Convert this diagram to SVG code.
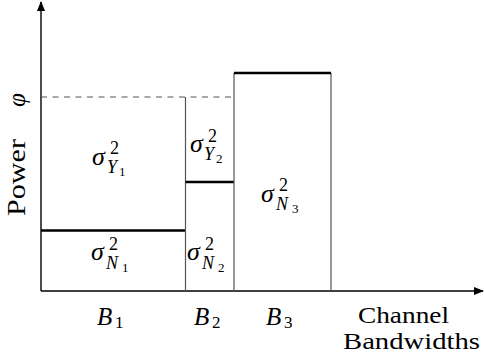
<svg xmlns="http://www.w3.org/2000/svg" width="484" height="358" viewBox="0 0 484 358">
<style>
.t{font-family:"Liberation Serif","Times New Roman",serif;fill:#000}
.m{font-family:"Liberation Serif","Times New Roman",serif;font-style:italic;fill:#000}
.thin{stroke:#555;stroke-width:1.2;fill:none}
.thick{stroke:#000;stroke-width:2.6;fill:none}
.ax{stroke:#000;stroke-width:1.4;fill:none}
</style>
<defs>
<marker id="ah" viewBox="0 0 10 8" refX="9" refY="4" markerWidth="10" markerHeight="8" markerUnits="userSpaceOnUse" orient="auto">
<path d="M0,0 L10,4 L0,8 Z" fill="#000"/>
</marker>
</defs>
<g id="connectors">
<line class="ax" x1="41" y1="291" x2="41" y2="2" marker-end="url(#ah)"/>
<line class="ax" x1="41" y1="291" x2="483" y2="291" marker-end="url(#ah)"/>
<line x1="41" y1="97" x2="234" y2="97" stroke="#555" stroke-width="1.2" stroke-dasharray="6,5.5"/>
</g>
<g id="bar1">
<line class="thick" x1="41" y1="230.5" x2="185.5" y2="230.5"/>
<text class="m" x="92" y="165" font-size="26">σ</text>
<text class="t" x="110" y="154" font-size="18">2</text>
<text class="m" x="107" y="173" font-size="18">Y</text>
<text class="t" x="119" y="176" font-size="13">1</text>
<text class="m" x="91" y="260" font-size="26">σ</text>
<text class="t" x="109" y="250" font-size="18">2</text>
<text class="m" x="106" y="269" font-size="18">N</text>
<text class="t" x="122" y="272" font-size="13">1</text>
</g>
<g id="bar2">
<line class="thin" x1="185.5" y1="97" x2="185.5" y2="291"/>
<line class="thick" x1="185.5" y1="182" x2="234" y2="182"/>
<text class="m" x="190" y="152" font-size="26">σ</text>
<text class="t" x="208" y="142" font-size="18">2</text>
<text class="m" x="204" y="160" font-size="18">Y</text>
<text class="t" x="216" y="163" font-size="13">2</text>
<text class="m" x="187" y="260" font-size="26">σ</text>
<text class="t" x="205" y="250" font-size="18">2</text>
<text class="m" x="202" y="269" font-size="18">N</text>
<text class="t" x="218" y="272" font-size="13">2</text>
</g>
<g id="bar3">
<line class="thin" x1="234" y1="73" x2="234" y2="291"/>
<line class="thin" x1="331" y1="73" x2="331" y2="291"/>
<line class="thick" x1="234" y1="73" x2="331" y2="73"/>
<text class="m" x="261" y="202" font-size="26">σ</text>
<text class="t" x="279" y="191" font-size="18">2</text>
<text class="m" x="276" y="210" font-size="18">N</text>
<text class="t" x="292" y="213" font-size="13">3</text>
</g>
<g id="labels">
<text class="m" x="97" y="325" font-size="25">B</text>
<text class="t" x="115" y="328" font-size="17">1</text>
<text class="m" x="194" y="325" font-size="25">B</text>
<text class="t" x="212" y="328" font-size="17">2</text>
<text class="m" x="266" y="325" font-size="25">B</text>
<text class="t" x="284" y="328" font-size="17">3</text>
<text class="t" x="358" y="323" font-size="23" textLength="91" lengthAdjust="spacingAndGlyphs">Channel</text>
<text class="t" x="343" y="349" font-size="23" textLength="137" lengthAdjust="spacingAndGlyphs">Bandwidths</text>
<text class="t" transform="translate(25,216) rotate(-90)" font-size="25" textLength="77" lengthAdjust="spacingAndGlyphs">Power</text>
<text class="m" transform="translate(25,107) rotate(-90)" font-size="25">φ</text>
</g>
</svg>
